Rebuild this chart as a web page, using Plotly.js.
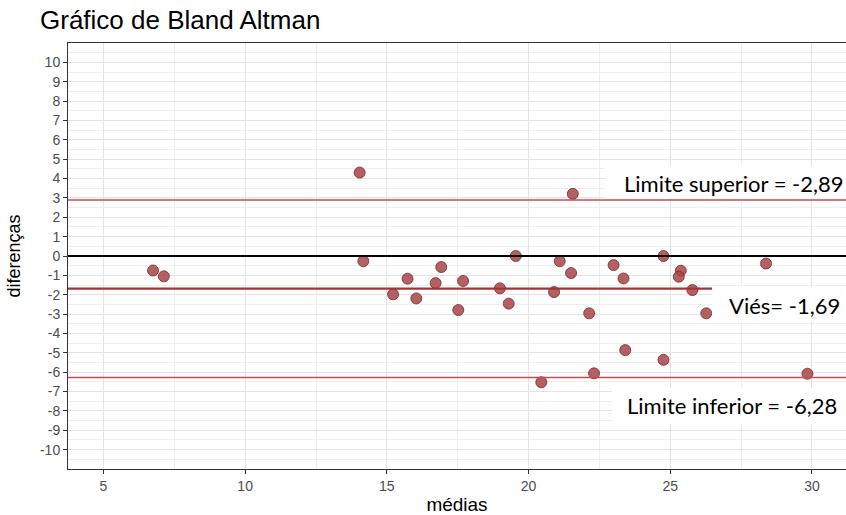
<!DOCTYPE html>
<html>
<head>
<meta charset="utf-8">
<script src="https://cdn.plot.ly/plotly-3.0.1.min.js"></script>
<style>html,body{margin:0;padding:0;background:#fff;}#chart{width:846px;height:515px;}</style>
</head>
<body>
<div id="chart"></div>
<script>
// ---- data ----
const medias = [6.75, 7.13, 14.04, 14.17, 15.22, 15.73, 16.04, 16.72, 16.92, 17.69, 17.52, 18.99, 19.30, 19.55, 20.45, 20.90, 21.10, 21.50, 21.56, 22.14, 22.31, 23.00, 23.35, 23.41, 24.76, 24.76, 25.37, 25.30, 25.78, 26.27, 28.38, 29.84];
const diferencas = [-0.75, -1.05, 4.31, -0.27, -1.98, -1.17, -2.19, -1.40, -0.57, -1.29, -2.79, -1.67, -2.46, 0.0, -6.52, -1.86, -0.27, -0.88, 3.21, -2.96, -6.06, -0.47, -1.16, -4.86, 0.0, -5.36, -0.76, -1.07, -1.76, -2.96, -0.39, -6.08];
const zeroLine = 0;
const vies = -1.69;
const limiteSuperior = 2.89;
const limiteInferior = -6.28;
const labelSuperior = "Limite superior = -2,89";
const labelVies = "Viés= -1,69";
const labelInferior = "Limite inferior = -6,28";
const xTicks = [5, 10, 15, 20, 25, 30];
const yTicks = [10, 9, 8, 7, 6, 5, 4, 3, 2, 1, 0, -1, -2, -3, -4, -5, -6, -7, -8, -9, -10];

// ---- layout helpers (pixel -> paper) ----
const W = 846, H = 515, L = 68, R = 0, T = 43, B = 46;
const pw = W - L - R, ph = H - T - B;
const px = v => (v - L) / pw;
const py = v => 1 - (v - T) / ph;

const trace = {
  x: medias, y: diferencas, type: 'scatter', mode: 'markers',
  marker: {size: 11, color: 'rgba(168,68,70,0.85)', line: {color: 'rgba(120,40,40,0.8)', width: 1}},
  hoverinfo: 'x+y', showlegend: false
};

function hline(y, color, width) {
  return {type: 'line', xref: 'paper', x0: 0, x1: 1, yref: 'y', y0: y, y1: y,
          line: {color: color, width: width}, layer: 'above'};
}
function whiteBox(x0, x1, y0, y1) {
  return {type: 'rect', xref: 'paper', yref: 'paper', x0: px(x0), x1: px(x1), y0: py(y1), y1: py(y0),
          fillcolor: '#ffffff', line: {width: 0}, layer: 'above'};
}

const shapes = [
  hline(limiteSuperior, '#c24f4f', 1.5),
  hline(limiteInferior, '#c24f4f', 1.5),
  hline(zeroLine, '#000000', 2),
  hline(vies, '#9e3535', 2.2),
  whiteBox(712, 846, 287, 322),
  whiteBox(612, 846, 388, 424),
  whiteBox(605, 846, 166, 198)
];

const annFont = {family: 'Lato, "Open Sans", sans-serif', size: 22, color: '#000'};
const annotations = [
  {text: labelSuperior, xref: 'paper', yref: 'paper', x: px(846), y: py(183), xanchor: 'right', yanchor: 'middle', showarrow: false, font: annFont},
  {text: labelVies, xref: 'paper', yref: 'paper', x: px(842), y: py(305), xanchor: 'right', yanchor: 'middle', showarrow: false, font: annFont},
  {text: labelInferior, xref: 'paper', yref: 'paper', x: px(839), y: py(405), xanchor: 'right', yanchor: 'middle', showarrow: false, font: annFont}
];

const axisCommon = {
  showline: true, linecolor: '#333333', linewidth: 1, mirror: true,
  ticks: 'outside', ticklen: 4, tickwidth: 1, tickcolor: '#333333',
  gridcolor: '#e4e4e4', gridwidth: 1, zeroline: false,
  tickfont: {family: '"Liberation Sans", Arial, sans-serif', size: 14, color: '#4d4d4d'}
};

const layout = {
  width: W, height: H,
  margin: {l: L, r: R, t: T, b: B, pad: 0},
  paper_bgcolor: '#ffffff', plot_bgcolor: '#ffffff',
  title: {text: 'Gráfico de Bland Altman', x: 40 / W, xanchor: 'left', xref: 'container',
          y: 1 - 20 / H, yanchor: 'middle', yref: 'container',
          font: {family: '"Liberation Sans", Arial, sans-serif', size: 26, color: '#000'}},
  xaxis: Object.assign({}, axisCommon, {
    range: [3.75, 31.2], tickmode: 'array', tickvals: xTicks, ticktext: xTicks.map(String),
    minor: {dtick: 2.5, tick0: 0, showgrid: true, gridcolor: '#efefef', gridwidth: 1, ticks: ''},
    title: {text: 'médias', standoff: 6, font: {family: '"Liberation Sans", Arial, sans-serif', size: 19, color: '#000'}}
  }),
  yaxis: Object.assign({}, axisCommon, {
    range: [-11, 11], tickmode: 'array', tickvals: yTicks, ticktext: yTicks.map(String),
    minor: {dtick: 0.5, tick0: 0, showgrid: true, gridcolor: '#efefef', gridwidth: 1, ticks: ''},
    title: {text: 'diferenças', standoff: 14, font: {family: '"Liberation Sans", Arial, sans-serif', size: 18, color: '#000'}}
  }),
  shapes: shapes,
  annotations: annotations,
  showlegend: false
};

Plotly.newPlot('chart', [trace], layout, {displayModeBar: false, staticPlot: true});
</script>
</body>
</html>
